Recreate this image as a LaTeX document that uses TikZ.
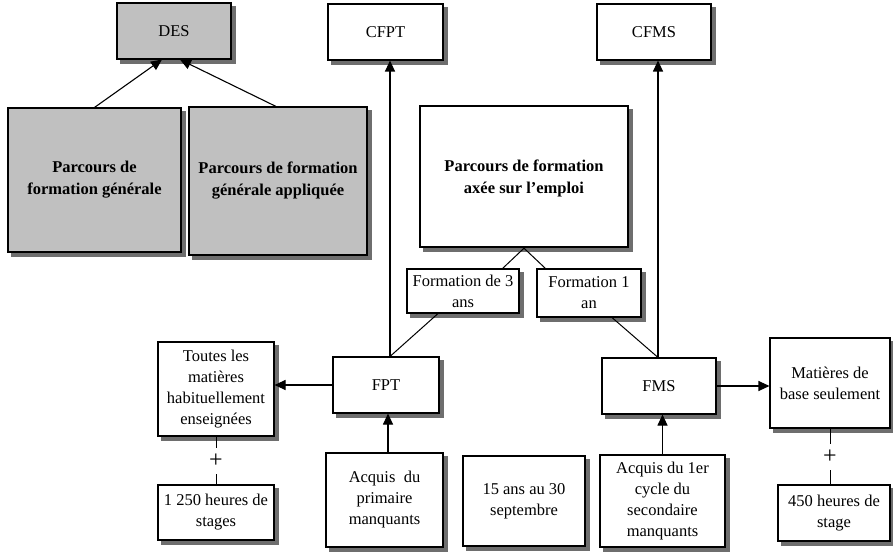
\documentclass[tikz,border=0pt]{standalone}
\usepackage{fontspec}
\setmainfont{Liberation Serif}
\usetikzlibrary{arrows.meta,calc}
\definecolor{boxgray}{RGB}{192,192,192}
\definecolor{shadowgray}{RGB}{110,110,110}
\pgfdeclarelayer{back}
\pgfdeclarelayer{shadowlayer}
\pgfsetlayers{back,shadowlayer,main}
\begin{document}
\begin{tikzpicture}[x=1pt,y=-1pt,
 box/.style={draw=black, line width=1.1pt, fill=white, align=center, inner sep=2pt,
   font=\fontsize{16.5}{21}\selectfont},
 graybox/.style={box, fill=boxgray, font=\fontsize{16.5}{22}\selectfont\bfseries},
 thickbox/.style={box, line width=2.4pt, font=\fontsize{16.5}{22}\selectfont\bfseries},
 arr/.style={line width=1.1pt, -{Triangle[length=11pt,width=10pt]}},
 link/.style={line width=1pt},
 shade/.style={fill=shadowgray},
 plussign/.style={fill=white, inner sep=0pt, minimum height=26pt, font=\fontsize{24}{24}\selectfont}
]
\useasboundingbox (0,0) rectangle (893,553);
\begin{pgfonlayer}{back}
\fill[white] (0,0) rectangle (893,553);
\end{pgfonlayer}

% top row
\node[graybox, font=\fontsize{16.5}{21}\selectfont, minimum width=114pt, minimum height=56pt] (DES) at (174,31) {DES};
\node[box, minimum width=115pt, minimum height=56pt] (CFPT) at (385.5,32) {CFPT};
\node[box, minimum width=114pt, minimum height=56pt] (CFMS) at (654,32) {CFMS};

% gray pathways
\node[graybox, minimum width=173pt, minimum height=144pt] (gen) at (94.5,180) {Parcours de\\formation générale};
\node[graybox, minimum width=178pt, minimum height=148pt] (appl) at (278,181) {Parcours de formation\\générale appliquée};

% central
\node[thickbox, minimum width=208pt, minimum height=141pt, text depth=-4pt] (central) at (524,176.5) {Parcours de formation\\axée sur l'emploi};
\node[box, minimum width=112pt, minimum height=44pt, inner sep=1pt] (F3) at (463,291) {Formation de 3\\ans};
\node[box, minimum width=104pt, minimum height=48pt, inner sep=1pt] (F1) at (589,293) {Formation 1\\an};

% middle row
\node[box, minimum width=106pt, minimum height=56pt] (FPT) at (386,385) {FPT};
\node[box, minimum width=114pt, minimum height=56pt] (FMS) at (659,386) {FMS};
\node[box, minimum width=116pt, minimum height=94pt] (Toutes) at (216,389) {Toutes les\\matières\\habituellement\\enseignées};
\node[box, minimum width=120pt, minimum height=90pt] (Mat) at (830,383) {Matières de\\base seulement};

% bottom row
\node[box, minimum width=116pt, minimum height=55pt] (h1250) at (216,512.5) {1 250 heures de\\stages};
\node[box, minimum width=117pt, minimum height=94pt] (AcqP) at (384.5,500) {Acquis~~du\\primaire\\manquants};
\node[box, minimum width=122pt, minimum height=90pt] (ans15) at (524,501) {15 ans au 30\\septembre};
\node[box, minimum width=125pt, minimum height=92pt] (Acq1) at (662.5,501) {Acquis du 1er\\cycle du\\secondaire\\manquants};
\node[box, minimum width=112pt, minimum height=56pt] (h450) at (834,513) {450 heures de\\stage};

% shadows
\begin{pgfonlayer}{shadowlayer}
\foreach \n in {DES,CFPT,CFMS,gen,appl,central,F3,F1,FPT,FMS,Toutes,Mat,h1250,AcqP,ans15,Acq1,h450}
  \fill[shade] ($(\n.south west)+(4,4)$) rectangle ($(\n.north east)+(4,4)$);
\end{pgfonlayer}

% connectors
\draw[arr] (gen.north) -- ($(DES.south)+(-12,0)$);
\draw[arr] ($(appl.north)+(-2,0)$) -- ($(DES.south)+(6,0)$);
\draw[arr] ($(FPT.north)+(4,0)$) -- ($(CFPT.south)+(4.5,0)$);
\draw[arr] ($(FMS.north)+(-1,0)$) -- ($(CFMS.south)+(4,0)$);
\draw[link] (central.south) -- ($(F3.north east)+(-17,0)$);
\draw[link] (central.south) -- ($(F1.north west)+(9,0)$);
\draw[link] ($(F3.south)+(-25,0)$) -- ($(FPT.north)+(4,0)$);
\draw[link] ($(F1.south)+(23,0)$) -- ($(FMS.north)+(-1,0)$);
\draw[arr] (FPT.west) -- (FPT.west -| Toutes.east);
\draw[arr] (FMS.east) -- (FMS.east -| Mat.west);
\draw[arr] ($(AcqP.north)+(3.5,0)$) -- ($(FPT.south)+(2,0)$);
\draw[arr] (Acq1.north) -- (Acq1.north |- FMS.south);
\draw[link] (Toutes.south) -- node[plussign]{+} (h1250.north);
\draw[link] (Mat.south) -- node[plussign]{+} (Mat.south |- h450.north);
\end{tikzpicture}
\end{document}
